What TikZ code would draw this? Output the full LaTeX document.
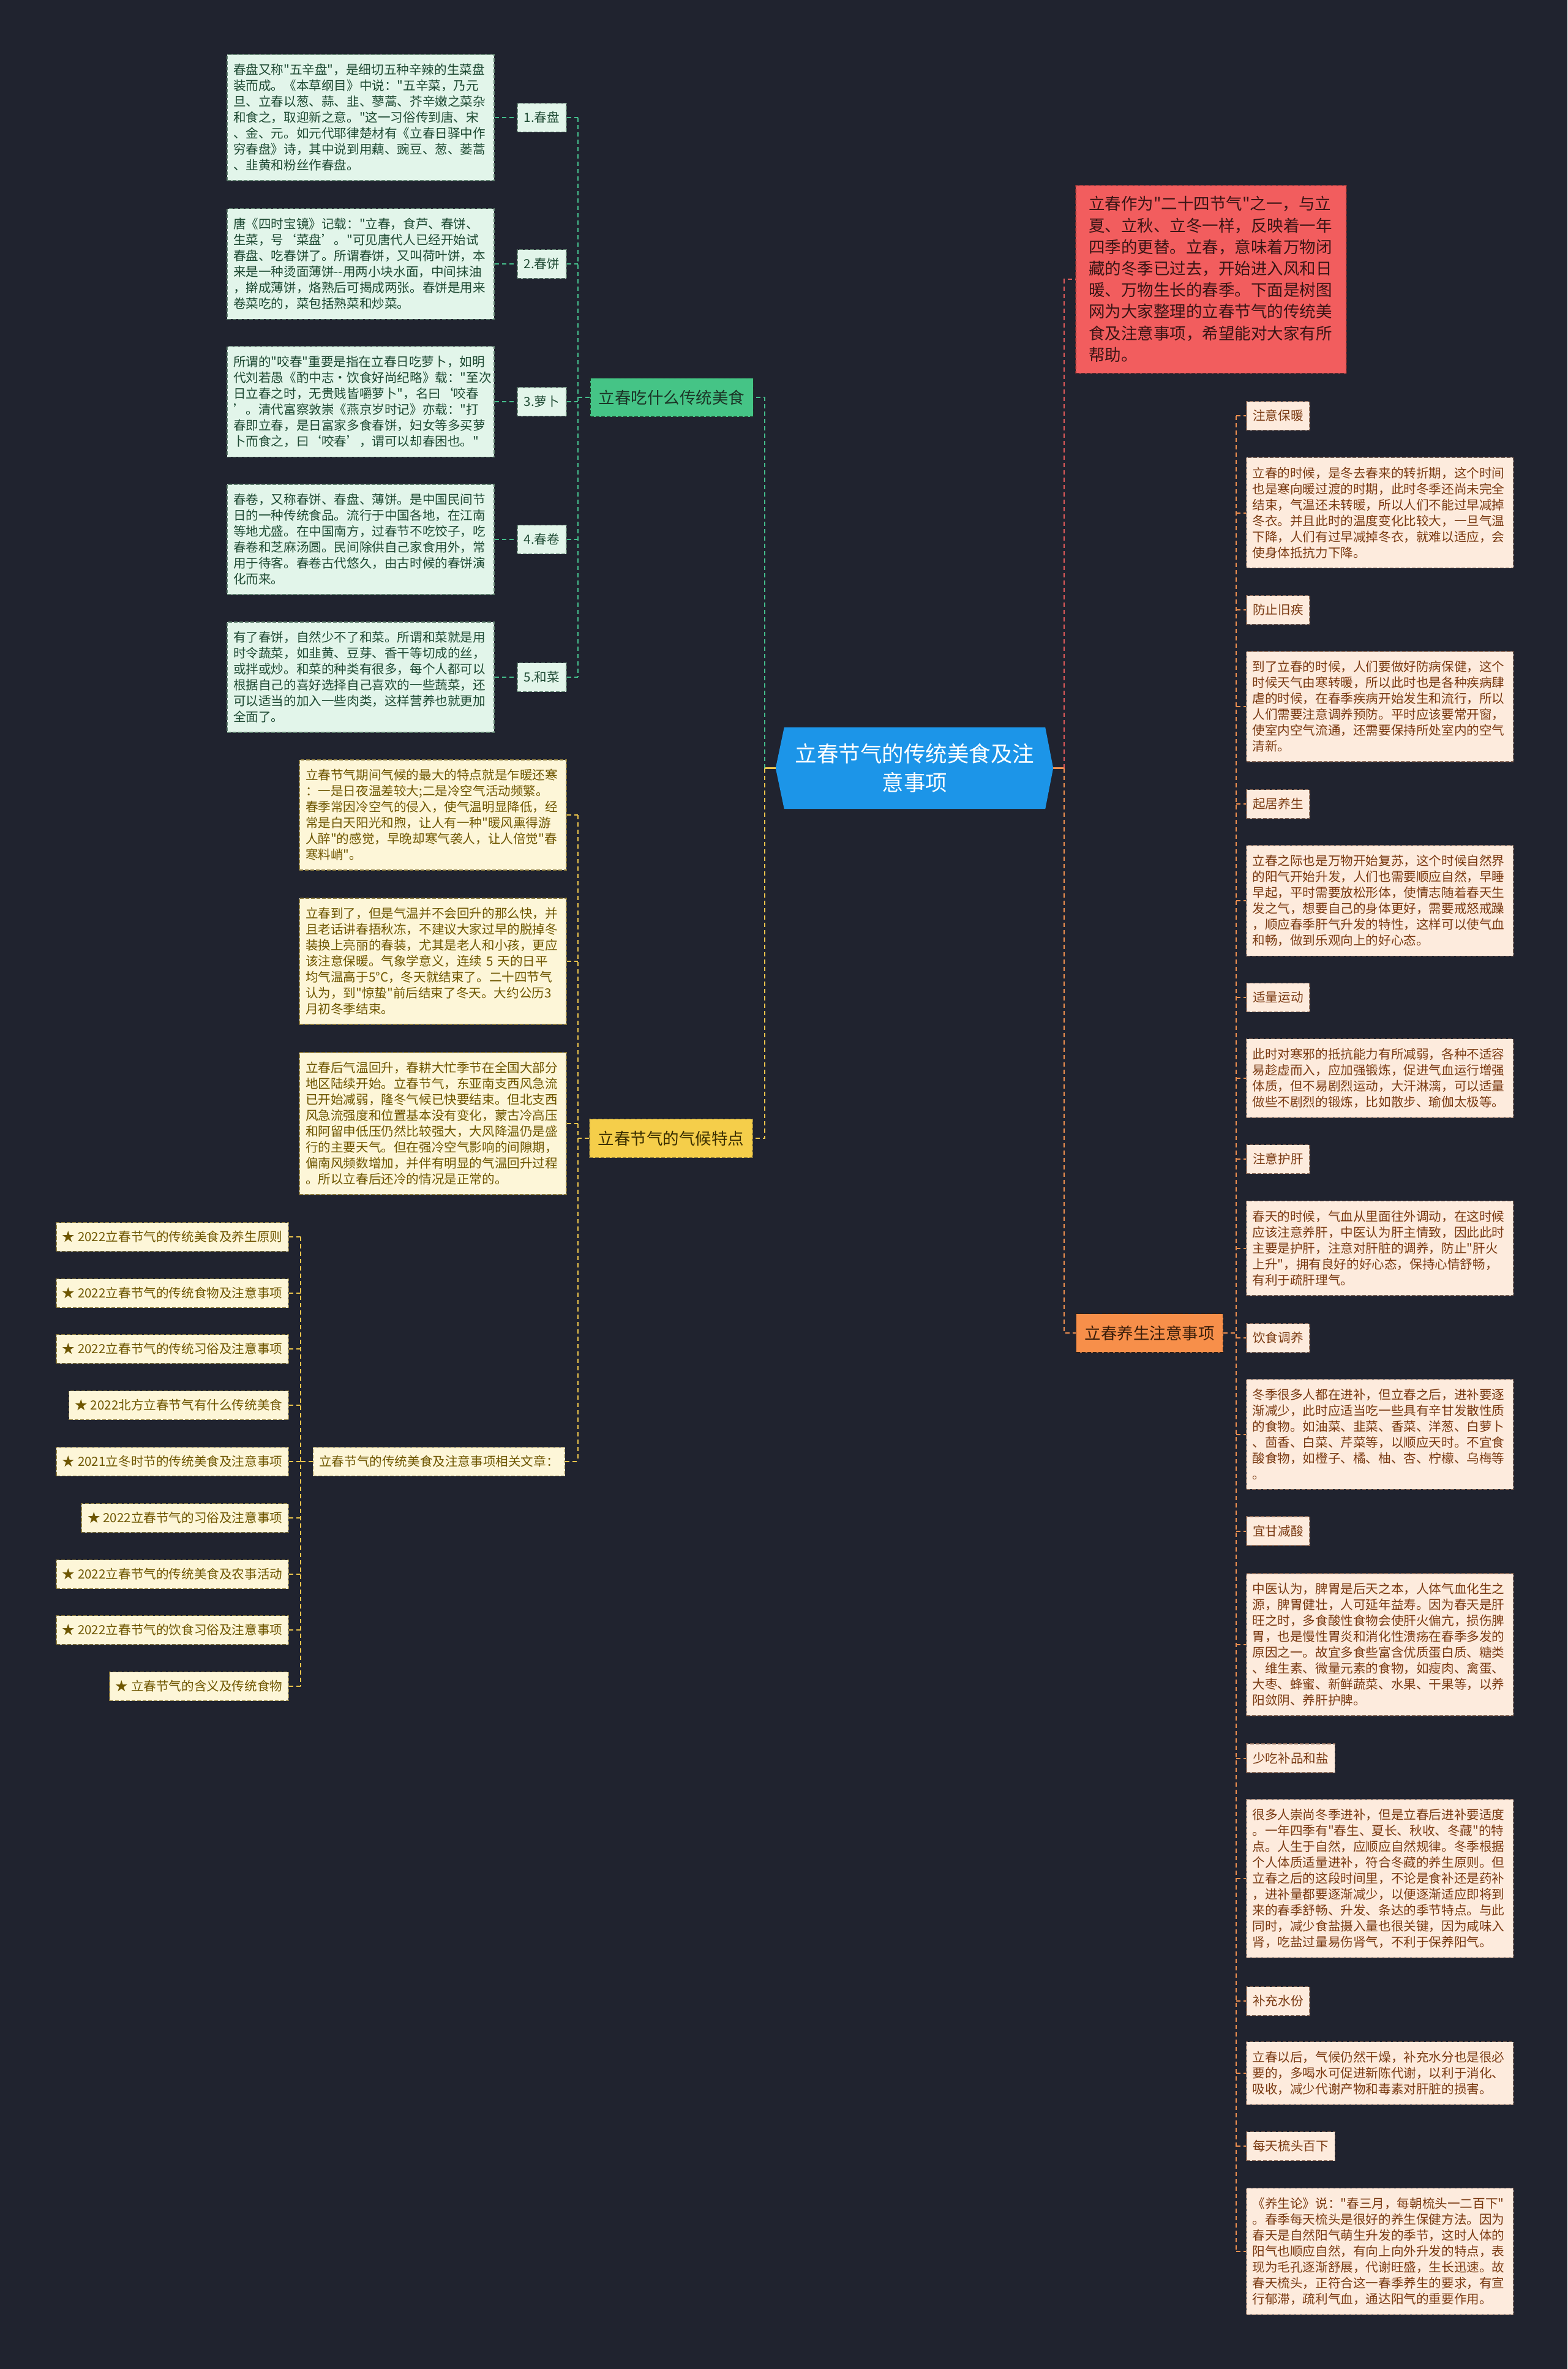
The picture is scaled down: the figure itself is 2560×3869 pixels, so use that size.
\documentclass[tikz,border=0pt]{standalone}
\usepackage{fontspec}
\newfontfamily\cjk{Noto Sans CJK SC}
\usetikzlibrary{backgrounds}
\definecolor{bg}{HTML}{20232F}
\definecolor{cblue}{HTML}{1C95E8}
\definecolor{gbrfill}{HTML}{45C486}
\definecolor{gbrtext}{HTML}{1B3526}
\definecolor{gnfill}{HTML}{E2F5EA}
\definecolor{gnborder}{HTML}{5F7F6E}
\definecolor{gntext}{HTML}{1E4A33}
\definecolor{gcol}{HTML}{45BE8C}
\definecolor{ybrfill}{HTML}{F5CE4A}
\definecolor{ybrtext}{HTML}{3A2E00}
\definecolor{ynfill}{HTML}{FDF6D8}
\definecolor{ynborder}{HTML}{8C7A3C}
\definecolor{yntext}{HTML}{6E5600}
\definecolor{ycol}{HTML}{EBC44C}
\definecolor{rfill}{HTML}{F25D5E}
\definecolor{rborder}{HTML}{7A2F2F}
\definecolor{rtext}{HTML}{3A1515}
\definecolor{rcol}{HTML}{E05A5A}
\definecolor{obrfill}{HTML}{F78F4A}
\definecolor{obrtext}{HTML}{3A1E0A}
\definecolor{onfill}{HTML}{FDEBDD}
\definecolor{onborder}{HTML}{8C6A58}
\definecolor{ontext}{HTML}{7A3A12}
\definecolor{ocol}{HTML}{F09050}
\begin{document}
\begin{tikzpicture}[x=1pt,y=-1pt,
  txt/.style={font=\cjk\fontsize{20.6}{26}\selectfont},
  box/.style={rectangle, line width=1.5pt, dash pattern=on 6pt off 3pt},
  gnote/.style={box, txt, fill=gnfill, draw=gnborder, text=gntext, text width=416pt, align=left, inner xsep=10pt, inner ysep=15.5pt},
  ynote/.style={gnote, fill=ynfill, draw=ynborder, text=yntext},
  onote/.style={gnote, fill=onfill, draw=onborder, text=ontext},
  glab/.style={box, txt, fill=gnfill, draw=gnborder, text=gntext, minimum width=80pt, minimum height=47pt, inner xsep=10pt, inner ysep=0pt},
  olab/.style={box, txt, fill=onfill, draw=onborder, text=ontext, minimum height=47pt, inner xsep=10.5pt, inner ysep=0pt, anchor=west},
  art/.style={box, txt, fill=ynfill, draw=ynborder, text=yntext, minimum height=47pt, inner xsep=10pt, inner ysep=0pt, anchor=east},
  branch/.style={box, font=\cjk\fontsize{26.5}{30}\selectfont, minimum height=63pt, inner xsep=14pt, inner ysep=0pt},
  intro/.style={box, fill=rfill, draw=rborder, text=rtext, font=\cjk\fontsize{26.5}{35.2}\selectfont, text width=400pt, align=left, inner xsep=21pt, inner ysep=18pt},
  link/.style={line width=2pt, dash pattern=on 7pt off 5pt},
  gline/.style={link, draw=gcol},
  yline/.style={link, draw=ycol},
  rline/.style={link, draw=rcol},
  oline/.style={link, draw=ocol},
  ysolid/.style={line width=2.5pt, draw=ycol},
  osolid/.style={line width=2.5pt, draw=ocol}
]
\useasboundingbox (0,0) rectangle (2560,3869);
\begin{scope}[on background layer]
  \fill[bg] (0,0) rectangle (2560,3869);
\end{scope}

% ---------- center ----------
\node[minimum width=426pt, minimum height=133pt, inner sep=0pt, text=white, text width=400pt, align=center,
      font=\cjk\fontsize{35.5}{47}\selectfont] (center) at (1494,1254.5) {立春节气的传统美食及注\\意事项};
\coordinate (ctipL) at ([xshift=-14pt]center.west);
\coordinate (ctipR) at ([xshift=13pt]center.east);
\begin{scope}[on background layer]
  \fill[cblue] (center.north west) -- (center.north east) -- (ctipR) -- (center.south east) -- (center.south west) -- (ctipL) -- cycle;
\end{scope}
\coordinate (jL) at ([xshift=-18pt]ctipL);
\coordinate (jR) at ([xshift=18pt]ctipR);

% ---------- green branch ----------
\node[branch, fill=gbrfill, draw=gbrtext, text=gbrtext] (gbr) at (1097,649) {立春吃什么传统美食};

\node[gnote] (gn1) at (589,192) {春盘又称"五辛盘"，是细切五种辛辣的生菜盘\\装而成。《本草纲目》中说："五辛菜，乃元\\旦、立春以葱、蒜、韭、蓼蒿、芥辛嫩之菜杂\\和食之，取迎新之意。"这一习俗传到唐、宋\\、金、元。如元代耶律楚材有《立春日驿中作\\穷春盘》诗，其中说到用藕、豌豆、葱、蒌蒿\\、韭黄和粉丝作春盘。};
\node[gnote] (gn2) at (589,431) {唐《四时宝镜》记载："立春，食芦、春饼、\\生菜，号‘菜盘’。"可见唐代人已经开始试\\春盘、吃春饼了。所谓春饼，又叫荷叶饼，本\\来是一种烫面薄饼-{}-用两小块水面，中间抹油\\，擀成薄饼，烙熟后可揭成两张。春饼是用来\\卷菜吃的，菜包括熟菜和炒菜。};
\node[gnote] (gn3) at (589,656) {所谓的"咬春"重要是指在立春日吃萝卜，如明\\代刘若愚《酌中志·饮食好尚纪略》载："至次\\日立春之时，无贵贱皆嚼萝卜"，名曰‘咬春\\’。清代富察敦崇《燕京岁时记》亦载："打\\春即立春，是日富家多食春饼，妇女等多买萝\\卜而食之，曰‘咬春’，谓可以却春困也。"};
\node[gnote] (gn4) at (589,881) {春卷，又称春饼、春盘、薄饼。是中国民间节\\日的一种传统食品。流行于中国各地，在江南\\等地尤盛。在中国南方，过春节不吃饺子，吃\\春卷和芝麻汤圆。民间除供自己家食用外，常\\用于待客。春卷古代悠久，由古时候的春饼演\\化而来。};
\node[gnote] (gn5) at (589,1106) {有了春饼，自然少不了和菜。所谓和菜就是用\\时令蔬菜，如韭黄、豆芽、香干等切成的丝，\\或拌或炒。和菜的种类有很多，每个人都可以\\根据自己的喜好选择自己喜欢的一些蔬菜，还\\可以适当的加入一些肉类，这样营养也就更加\\全面了。};

\node[glab] (gl1) at (885,192) {1.春盘};
\node[glab] (gl2) at (885,431) {2.春饼};
\node[glab] (gl3) at (885,656) {3.萝卜};
\node[glab] (gl4) at (885,881) {4.春卷};
\node[glab] (gl5) at (885,1106) {5.和菜};

\coordinate (gx) at (944,0);
\draw[gline] (gl1.east -| gx) -- (gl5.east -| gx);
\draw[gline] (gbr.west) -- (gbr.west -| gx);
\foreach \i in {1,...,5} {
  \draw[gline] (gn\i.east) -- (gl\i.west);
  \draw[gline] (gl\i.east) -- (gl\i.east -| gx);
}

% ---------- yellow branch ----------
\node[branch, fill=ybrfill, draw=ynborder, text=ybrtext] (ybr) at (1096,1859) {立春节气的气候特点};

\node[ynote] (yn1) at (707,1331) {立春节气期间气候的最大的特点就是乍暖还寒\\：一是日夜温差较大;二是冷空气活动频繁。\\春季常因冷空气的侵入，使气温明显降低，经\\常是白天阳光和煦，让人有一种"暖风熏得游\\人醉"的感觉，早晚却寒气袭人，让人倍觉"春\\寒料峭"。};
\node[ynote] (yn2) at (707,1570) {立春到了，但是气温并不会回升的那么快，并\\且老话讲春捂秋冻，不建议大家过早的脱掉冬\\装换上亮丽的春装，尤其是老人和小孩，更应\\该注意保暖。气象学意义，连续 5 天的日平\\均气温高于5°C，冬天就结束了。二十四节气\\认为，到"惊蛰"前后结束了冬天。大约公历3\\月初冬季结束。};
\node[ynote] (yn3) at (707,1835) {立春后气温回升，春耕大忙季节在全国大部分\\地区陆续开始。立春节气，东亚南支西风急流\\已开始减弱，隆冬气候已快要结束。但北支西\\风急流强度和位置基本没有变化，蒙古冷高压\\和阿留申低压仍然比较强大，大风降温仍是盛\\行的主要天气。但在强冷空气影响的间隙期，\\偏南风频数增加，并伴有明显的气温回升过程\\。所以立春后还冷的情况是正常的。};

\node[box, txt, fill=ynfill, draw=ynborder, text=yntext, minimum height=47pt, inner xsep=10pt, inner ysep=0pt] (hub) at (717,2387) {立春节气的传统美食及注意事项相关文章：};

\node[art] (a1) at (472,2020) {★ 2022立春节气的传统美食及养生原则};
\node[art] (a2) at (472,2112) {★ 2022立春节气的传统食物及注意事项};
\node[art] (a3) at (472,2203) {★ 2022立春节气的传统习俗及注意事项};
\node[art] (a4) at (472,2295) {★ 2022北方立春节气有什么传统美食};
\node[art] (a5) at (472,2387) {★ 2021立冬时节的传统美食及注意事项};
\node[art] (a6) at (472,2479) {★ 2022立春节气的习俗及注意事项};
\node[art] (a7) at (472,2571) {★ 2022立春节气的传统美食及农事活动};
\node[art] (a8) at (472,2662) {★ 2022立春节气的饮食习俗及注意事项};
\node[art] (a9) at (472,2754) {★ 立春节气的含义及传统食物};

\draw[yline] (yn1.east -| gx) -- (hub.east -| gx);
\foreach \i in {1,2,3} {
  \draw[yline] (yn\i.east) -- (yn\i.east -| gx);
}
\draw[yline] (ybr.west) -- (ybr.west -| gx);
\draw[yline] (hub.east) -- (hub.east -| gx);

\coordinate (ax) at (491,0);
\draw[yline] (a1.east -| ax) -- (a9.east -| ax);
\foreach \i in {1,...,9} {
  \draw[yline] (a\i.east) -- (a\i.east -| ax);
}
\draw[yline] (hub.west) -- (hub.west -| ax);

% ---------- intro ----------
\node[intro] (intro) at (1978,456) {立春作为"二十四节气"之一，与立\\夏、立秋、立冬一样，反映着一年\\四季的更替。立春，意味着万物闭\\藏的冬季已过去，开始进入风和日\\暖、万物生长的春季。下面是树图\\网为大家整理的立春节气的传统美\\食及注意事项，希望能对大家有所\\帮助。};

% ---------- orange branch ----------
\node[branch, fill=obrfill, draw=obrtext, text=obrtext] (obr) at (1877.5,2177) {立春养生注意事项};

\node[olab] (ol1) at (2035,679) {注意保暖};
\node[onote] (on1) at (2253.5,837.5) {立春的时候，是冬去春来的转折期，这个时间\\也是寒向暖过渡的时期，此时冬季还尚未完全\\结束，气温还未转暖，所以人们不能过早减掉\\冬衣。并且此时的温度变化比较大，一旦气温\\下降，人们有过早减掉冬衣，就难以适应，会\\使身体抵抗力下降。};
\node[olab] (ol2) at (2035,996) {防止旧疾};
\node[onote] (on2) at (2253.5,1154) {到了立春的时候，人们要做好防病保健，这个\\时候天气由寒转暖，所以此时也是各种疾病肆\\虐的时候，在春季疾病开始发生和流行，所以\\人们需要注意调养预防。平时应该要常开窗，\\使室内空气流通，还需要保持所处室内的空气\\清新。};
\node[olab] (ol3) at (2035,1313) {起居养生};
\node[onote] (on3) at (2253.5,1471) {立春之际也是万物开始复苏，这个时候自然界\\的阳气开始升发，人们也需要顺应自然，早睡\\早起，平时需要放松形体，使情志随着春天生\\发之气，想要自己的身体更好，需要戒怒戒躁\\，顺应春季肝气升发的特性，这样可以使气血\\和畅，做到乐观向上的好心态。};
\node[olab] (ol4) at (2035,1629) {适量运动};
\node[onote] (on4) at (2253.5,1761) {此时对寒邪的抵抗能力有所减弱，各种不适容\\易趁虚而入，应加强锻炼，促进气血运行增强\\体质，但不易剧烈运动，大汗淋漓，可以适量\\做些不剧烈的锻炼，比如散步、瑜伽太极等。};
\node[olab] (ol5) at (2035,1893) {注意护肝};
\node[onote] (on5) at (2253.5,2038.5) {春天的时候，气血从里面往外调动，在这时候\\应该注意养肝，中医认为肝主情致，因此此时\\主要是护肝，注意对肝脏的调养，防止"肝火\\上升"，拥有良好的好心态，保持心情舒畅，\\有利于疏肝理气。};
\node[olab] (ol6) at (2035,2185) {饮食调养};
\node[onote] (on6) at (2253.5,2342.5) {冬季很多人都在进补，但立春之后，进补要逐\\渐减少，此时应适当吃一些具有辛甘发散性质\\的食物。如油菜、韭菜、香菜、洋葱、白萝卜\\、茴香、白菜、芹菜等，以顺应天时。不宜食\\酸食物，如橙子、橘、柚、杏、柠檬、乌梅等\\。};
\node[olab] (ol7) at (2035,2500.5) {宜甘减酸};
\node[onote] (on7) at (2253.5,2686) {中医认为，脾胃是后天之本，人体气血化生之\\源，脾胃健壮，人可延年益寿。因为春天是肝\\旺之时，多食酸性食物会使肝火偏亢，损伤脾\\胃，也是慢性胃炎和消化性溃疡在春季多发的\\原因之一。故宜多食些富含优质蛋白质、糖类\\、维生素、微量元素的食物，如瘦肉、禽蛋、\\大枣、蜂蜜、新鲜蔬菜、水果、干果等，以养\\阳敛阴、养肝护脾。};
\node[olab] (ol8) at (2035,2871.5) {少吃补品和盐};
\node[onote] (on8) at (2253.5,3068) {很多人崇尚冬季进补，但是立春后进补要适度\\。一年四季有"春生、夏长、秋收、冬藏"的特\\点。人生于自然，应顺应自然规律。冬季根据\\个人体质适量进补，符合冬藏的养生原则。但\\立春之后的这段时间里，不论是食补还是药补\\，进补量都要逐渐减少，以便逐渐适应即将到\\来的春季舒畅、升发、条达的季节特点。与此\\同时，减少食盐摄入量也很关键，因为咸味入\\肾，吃盐过量易伤肾气，不利于保养阳气。};
\node[olab] (ol9) at (2035,3268) {补充水份};
\node[onote] (on9) at (2253.5,3386) {立春以后，气候仍然干燥，补充水分也是很必\\要的，多喝水可促进新陈代谢，以利于消化、\\吸收，减少代谢产物和毒素对肝脏的损害。};
\node[olab] (ol10) at (2035,3505) {每天梳头百下};
\node[onote] (on10) at (2253.5,3677) {《养生论》说："春三月，每朝梳头一二百下"\\。春季每天梳头是很好的养生保健方法。因为\\春天是自然阳气萌生升发的季节，这时人体的\\阳气也顺应自然，有向上向外升发的特点，表\\现为毛孔逐渐舒展，代谢旺盛，生长迅速。故\\春天梳头，正符合这一春季养生的要求，有宣\\行郁滞，疏利气血，通达阳气的重要作用。};

\coordinate (ox) at (2019,0);
\draw[oline] (ol1.west -| ox) -- (on10.west -| ox);
\foreach \i in {1,...,10} {
  \draw[oline] (ol\i.west -| ox) -- (ol\i.west);
  \draw[oline] (on\i.west -| ox) -- (on\i.west);
}
\draw[oline] (obr.east) -- (obr.east -| ox);

% ---------- center connectors ----------
\draw[ysolid] (ctipL) -- (jL);
\draw[gline] (jL) |- (gbr.east);
\draw[yline] (jL) |- (ybr.east);
\draw[osolid] (ctipR) -- (jR);
\draw[rline] (jR) |- (intro.west);
\draw[oline] (jR) |- (obr.west);
\end{tikzpicture}
\end{document}
